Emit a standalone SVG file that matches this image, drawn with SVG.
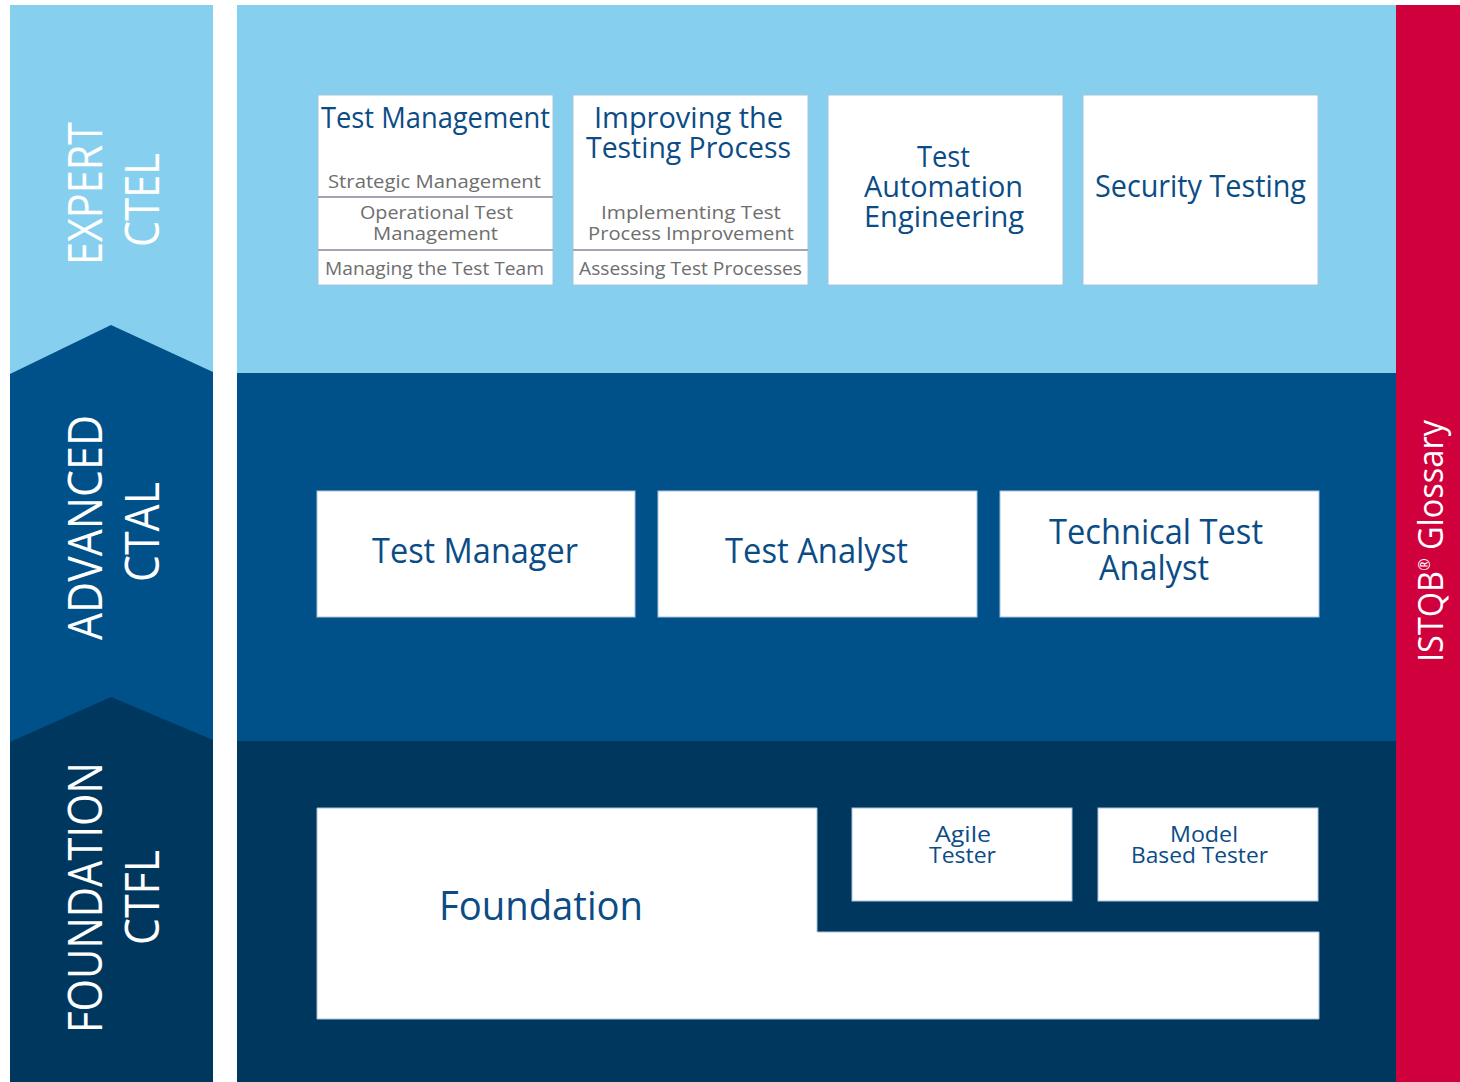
<svg xmlns="http://www.w3.org/2000/svg" width="1460" height="1082" viewBox="0 0 1460 1082">
<style>
.t{font-family:"Open Sans","Noto Sans","Liberation Sans",sans-serif;fill:#0B4C86;text-anchor:middle}
.g{font-family:"Open Sans","Noto Sans","Liberation Sans",sans-serif;fill:#6E6E6E;text-anchor:middle;font-size:19px}
.w{font-family:"Open Sans","Noto Sans","Liberation Sans",sans-serif;fill:#FFFFFF;text-anchor:middle}
.box{fill:#FFFFFF;stroke:#A9C4DA;stroke-width:1}
.sep{stroke:#A3A3B3;stroke-width:2}
</style>
<rect x="0" y="0" width="1460" height="1082" fill="#FFFFFF"/>
<g id="levels">
<rect x="10" y="5" width="203" height="1077" fill="#87CFEF"/>
<polygon points="10,374 111,325 213,372 213,1082 10,1082" fill="#00508A"/>
<polygon points="10,742 111,697 213,740 213,1082 10,1082" fill="#00375E"/>
<text class="w" font-size="48" transform="translate(102,193.5) rotate(-90)" textLength="143" lengthAdjust="spacingAndGlyphs">EXPERT</text>
<text class="w" font-size="48" transform="translate(159,200) rotate(-90)" textLength="94" lengthAdjust="spacingAndGlyphs">CTEL</text>
<text class="w" font-size="48" transform="translate(102,527.5) rotate(-90)" textLength="225" lengthAdjust="spacingAndGlyphs">ADVANCED</text>
<text class="w" font-size="48" transform="translate(159,532) rotate(-90)" textLength="100" lengthAdjust="spacingAndGlyphs">CTAL</text>
<text class="w" font-size="48" transform="translate(102,897.5) rotate(-90)" textLength="271" lengthAdjust="spacingAndGlyphs">FOUNDATION</text>
<text class="w" font-size="48" transform="translate(159,897.5) rotate(-90)" textLength="95" lengthAdjust="spacingAndGlyphs">CTFL</text>
</g>
<g id="bands">
<rect x="237" y="5" width="1159" height="368" fill="#87CFEF"/>
<rect x="237" y="373" width="1159" height="368" fill="#00508A"/>
<rect x="237" y="741" width="1159" height="341" fill="#00375E"/>
</g>
<g id="glossary">
<rect x="1396" y="5" width="64" height="1077" fill="#D0003C"/>
<text class="w" font-size="35" transform="translate(1443,541) rotate(-90)" textLength="242" lengthAdjust="spacingAndGlyphs">ISTQB<tspan font-size="16" baseline-shift="80%">®</tspan> Glossary</text>
</g>
<g id="test-management">
<rect class="box" x="318" y="95" width="235" height="190"/>
<line class="sep" x1="318" y1="197" x2="553" y2="197"/>
<line class="sep" x1="318" y1="250" x2="553" y2="250"/>
<text class="t" x="435.5" y="128" font-size="29" textLength="229" lengthAdjust="spacingAndGlyphs">Test Management</text>
<text class="g" x="434.5" y="188" textLength="213" lengthAdjust="spacingAndGlyphs">Strategic Management</text>
<text class="g" x="436.5" y="219" textLength="153" lengthAdjust="spacingAndGlyphs">Operational Test</text>
<text class="g" x="435.5" y="240" textLength="125" lengthAdjust="spacingAndGlyphs">Management</text>
<text class="g" x="434.5" y="275" textLength="219" lengthAdjust="spacingAndGlyphs">Managing the Test Team</text>
</g>
<g id="improving">
<rect class="box" x="573" y="95" width="235" height="190"/>
<line class="sep" x1="573" y1="250" x2="808" y2="250"/>
<text class="t" x="688.5" y="128" font-size="29" textLength="189" lengthAdjust="spacingAndGlyphs">Improving the</text>
<text class="t" x="688.5" y="158" font-size="29" textLength="205" lengthAdjust="spacingAndGlyphs">Testing Process</text>
<text class="g" x="691" y="219" textLength="180" lengthAdjust="spacingAndGlyphs">Implementing Test</text>
<text class="g" x="691" y="240" textLength="206" lengthAdjust="spacingAndGlyphs">Process Improvement</text>
<text class="g" x="690.5" y="275" textLength="223" lengthAdjust="spacingAndGlyphs">Assessing Test Processes</text>
</g>
<g id="automation">
<rect class="box" x="828" y="95" width="235" height="190"/>
<text class="t" x="943.5" y="167" font-size="30" textLength="53" lengthAdjust="spacingAndGlyphs">Test</text>
<text class="t" x="943.5" y="197" font-size="30" textLength="159" lengthAdjust="spacingAndGlyphs">Automation</text>
<text class="t" x="944" y="227" font-size="30" textLength="160" lengthAdjust="spacingAndGlyphs">Engineering</text>
</g>
<g id="security">
<rect class="box" x="1083" y="95" width="235" height="190"/>
<text class="t" x="1200.5" y="197" font-size="31" textLength="211" lengthAdjust="spacingAndGlyphs">Security Testing</text>
</g>
<g id="test-manager">
<rect class="box" x="317" y="491" width="318" height="126"/>
<text class="t" x="475" y="563" font-size="35" textLength="206" lengthAdjust="spacingAndGlyphs">Test Manager</text>
</g>
<g id="test-analyst">
<rect class="box" x="658" y="491" width="319" height="126"/>
<text class="t" x="816.5" y="563" font-size="35" textLength="183" lengthAdjust="spacingAndGlyphs">Test Analyst</text>
</g>
<g id="technical-test-analyst">
<rect class="box" x="1000" y="491" width="319" height="126"/>
<text class="t" x="1156" y="544" font-size="34" textLength="214" lengthAdjust="spacingAndGlyphs">Technical Test</text>
<text class="t" x="1154" y="580" font-size="34" textLength="110" lengthAdjust="spacingAndGlyphs">Analyst</text>
</g>
<g id="foundation">
<polygon points="317,808 817,808 817,932 1319,932 1319,1019 317,1019" fill="#FFFFFF" stroke="#A9C4DA" stroke-width="1"/>
<text class="t" x="541" y="920" font-size="41" textLength="204" lengthAdjust="spacingAndGlyphs">Foundation</text>
</g>
<g id="agile-tester">
<rect class="box" x="852" y="808" width="220" height="93"/>
<text class="t" x="963" y="842" font-size="22" textLength="56" lengthAdjust="spacingAndGlyphs">Agile</text>
<text class="t" x="962.5" y="863" font-size="22" textLength="67" lengthAdjust="spacingAndGlyphs">Tester</text>
</g>
<g id="model-based-tester">
<rect class="box" x="1098" y="808" width="220" height="93"/>
<text class="t" x="1204" y="842" font-size="22" textLength="68" lengthAdjust="spacingAndGlyphs">Model</text>
<text class="t" x="1199.5" y="863" font-size="22" textLength="137" lengthAdjust="spacingAndGlyphs">Based Tester</text>
</g>
<g id="connectors"></g>
</svg>
